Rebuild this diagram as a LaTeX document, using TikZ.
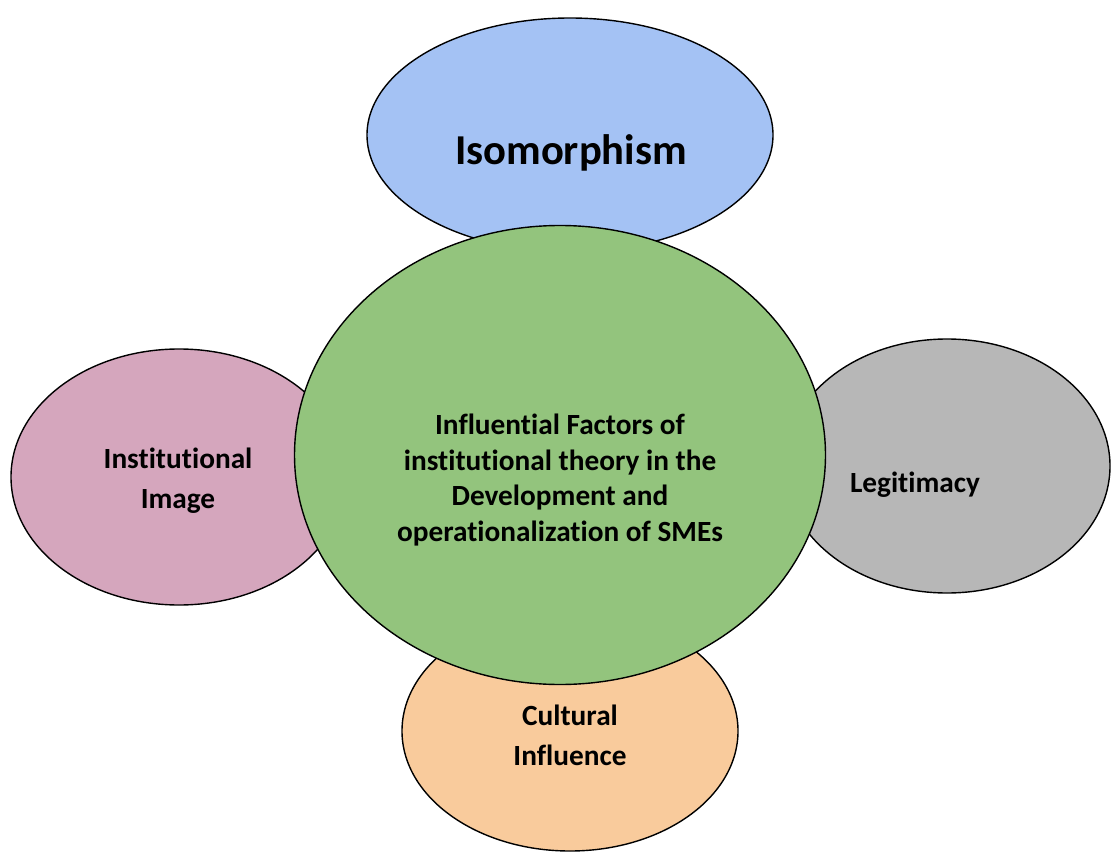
\documentclass[tikz,border=0pt]{standalone}
\usepackage{fontspec}
\setmainfont{Carlito}[Ligatures={NoCommon,NoContextual}]
\usetikzlibrary{shapes.geometric}
\definecolor{isoblue}{HTML}{A4C2F4}
\definecolor{coregreen}{HTML}{93C47D}
\definecolor{imagepink}{HTML}{D5A6BD}
\definecolor{legitgray}{HTML}{B7B7B7}
\definecolor{cultorange}{HTML}{F9CB9C}

\begin{document}
\begin{tikzpicture}[x=1pt,y=-1pt,
        blob/.style={ellipse,draw=black,line width=1.4pt,inner sep=0pt},
        lbl/.style={font=\bfseries\fontsize{29.3}{40}\selectfont,align=center}]
        \useasboundingbox (0,0) rectangle (1111,856);

        % outer ellipses first, the centre one on top
        \node[blob,fill=isoblue,minimum width=406,minimum height=234] (isoE) at (570,135) {};
        \node[blob,fill=imagepink,minimum width=336,minimum height=256] (imageE) at (179,477) {};
        \node[blob,fill=legitgray,minimum width=326,minimum height=254] (legitE) at (947,466) {};
        \node[blob,fill=cultorange,minimum width=336,minimum height=240] (cultE) at (570,731) {};
        \node[blob,fill=coregreen,minimum width=531,minimum height=459] (coreE) at (560,455) {};

        % labels
        \node[font=\bfseries\fontsize{42.6}{50}\selectfont] (iso) at (571,153) {Isomorphism};
        \node[lbl] (image) at (178,481) {Institutional\\Image};
        \node[lbl] (legit) at (915,485) {Legitimacy};
        \node[lbl] (cult) at (570,735) {Cultural\\Influence};
        \node[lbl,font=\bfseries\fontsize{29.3}{35.7}\selectfont] (core) at (560,480)
            {Influential Factors of\\institutional theory in the\\Development and\\operationalization of SMEs};
\end{tikzpicture}
\end{document}
